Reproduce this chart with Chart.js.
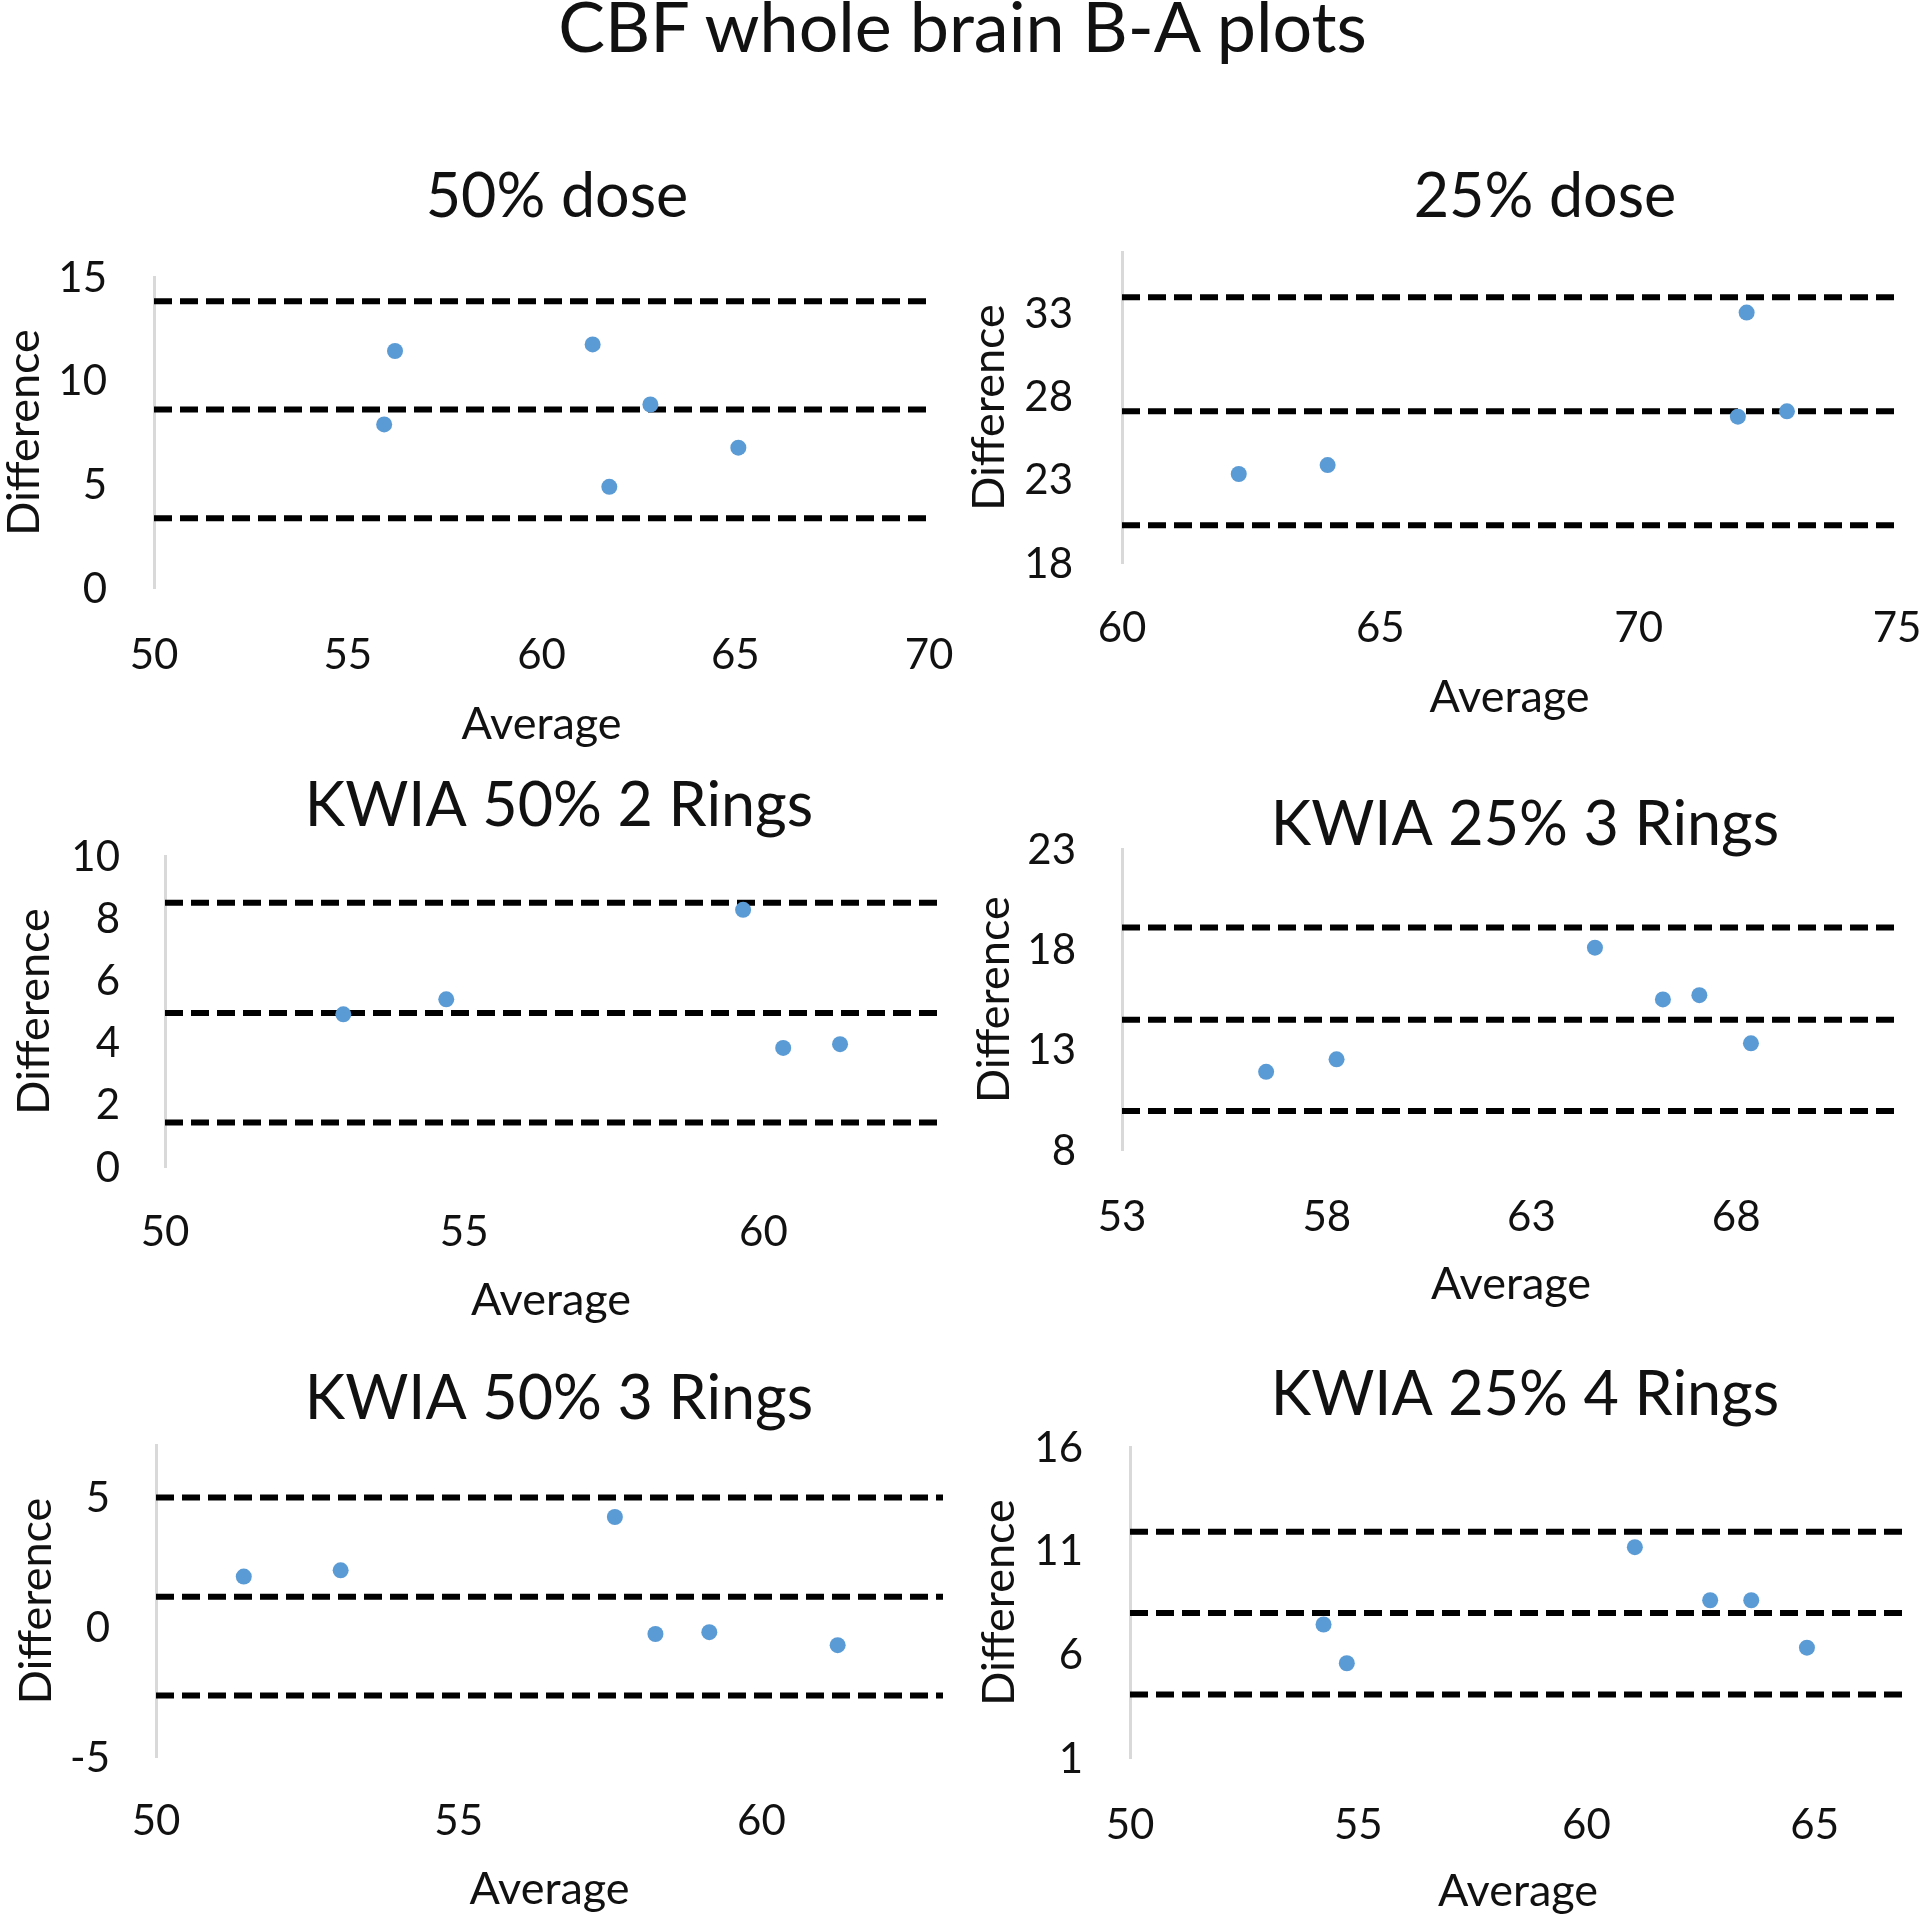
<!DOCTYPE html>
<html>
<head>
<meta charset="utf-8">
<title>CBF whole brain B-A plots</title>
<script src="https://cdn.jsdelivr.net/npm/chart.js@4.4.1/dist/chart.umd.min.js"></script>
<style>
  html, body { margin: 0; padding: 0; background: #fff; }
  body { width: 1920px; height: 1918px; position: relative; overflow: hidden; font-family: Lato, sans-serif; }
  #mainTitle { position: absolute; left: 0; top: -10px; width: 1925px; text-align: center;
               font-size: 70px; line-height: 71px; color: #111; }
  canvas { position: absolute; }
</style>
</head>
<body>
<div id="mainTitle">CBF whole brain B-A plots</div>
<canvas id="dose50"></canvas>
<canvas id="dose25"></canvas>
<canvas id="kwia50r2"></canvas>
<canvas id="kwia25r3"></canvas>
<canvas id="kwia50r3"></canvas>
<canvas id="kwia25r4"></canvas>
<script>
// ---- data (limits = [upper LoA, mean difference, lower LoA]) ----

// 50% dose
const dose50Avg    = [56.22, 55.94, 61.32, 62.81, 61.75, 65.08];
const dose50Diff   = [11.43, 7.89, 11.75, 8.85, 4.88, 6.77];
const dose50Limits = [13.83, 8.61, 3.37];
const dose50XRange = [50, 70];
const dose50YRange = [0, 15];
const dose50XTicks = [50, 55, 60, 65, 70];
const dose50YTicks = [0, 5, 10, 15];

// 25% dose
const dose25Avg    = [62.26, 63.98, 72.09, 71.92, 72.87];
const dose25Diff   = [23.35, 23.89, 33.06, 26.8, 27.12];
const dose25Limits = [33.98, 27.12, 20.27];
const dose25XRange = [60, 75];
const dose25YRange = [18, 36.7];
const dose25XTicks = [60, 65, 70, 75];
const dose25YTicks = [18, 23, 28, 33];

// KWIA 50% 2 Rings
const kwia50r2Avg    = [52.98, 54.7, 59.66, 60.33, 61.28];
const kwia50r2Diff   = [4.91, 5.39, 8.27, 3.83, 3.95];
const kwia50r2Limits = [8.5, 4.95, 1.43];
const kwia50r2XRange = [50, 62.9];
const kwia50r2YRange = [0, 10];
const kwia50r2XTicks = [50, 55, 60];
const kwia50r2YTicks = [0, 2, 4, 6, 8, 10];

// KWIA 25% 3 Rings
const kwia25r3Avg    = [56.52, 58.24, 64.55, 66.21, 67.1, 68.36];
const kwia25r3Diff   = [11.9, 12.52, 18.09, 15.51, 15.72, 13.32];
const kwia25r3Limits = [19.1, 14.5, 9.94];
const kwia25r3XRange = [53, 72];
const kwia25r3YRange = [8, 23];
const kwia25r3XTicks = [53, 58, 63, 68];
const kwia25r3YTicks = [8, 13, 18, 23];

// KWIA 50% 3 Rings
const kwia50r3Avg    = [51.45, 53.05, 57.58, 58.25, 59.14, 61.26];
const kwia50r3Diff   = [1.94, 2.18, 4.23, -0.27, -0.2, -0.7];
const kwia50r3Limits = [4.98, 1.16, -2.63];
const kwia50r3XRange = [50, 63];
const kwia50r3YRange = [-5, 7];
const kwia50r3XTicks = [50, 55, 60];
const kwia50r3YTicks = [-5, 0, 5];

// KWIA 25% 4 Rings
const kwia25r4Avg    = [54.24, 54.75, 61.06, 62.71, 63.61, 64.83];
const kwia25r4Diff   = [7.44, 5.57, 11.17, 8.61, 8.61, 6.32];
const kwia25r4Limits = [11.91, 7.99, 4.06];
const kwia25r4XRange = [50, 67];
const kwia25r4YRange = [1, 16];
const kwia25r4XTicks = [50, 55, 60, 65];
const kwia25r4YTicks = [1, 6, 11, 16];

// ---- page layout (pixels on the 1920 wide page) ----
const FONT_TICK = 42, FONT_AXIS = 45, FONT_TITLE = 61, LH = 1.2;
const TEXT = '#111';

const boxes = {
  dose50:   { plot: [154, 277, 929, 588],    titleX: 557,  titleY: 198,  diffX: 24,  tickRight: 107,  xLabelY: 655,  avgY: 724 },
  dose25:   { plot: [1122, 252, 1897, 563],  titleX: 1545, titleY: 198,  diffX: 989, tickRight: 1073, xLabelY: 628,  avgY: 697 },
  kwia50r2: { plot: [165, 856, 937, 1167],   titleX: 559,  titleY: 807,  diffX: 34,  tickRight: 120,  xLabelY: 1232, avgY: 1300 },
  kwia25r3: { plot: [1122, 838, 1900, 1150], titleX: 1525, titleY: 815,  diffX: 994, tickRight: 1076, xLabelY: 1217, avgY: 1284 },
  kwia50r3: { plot: [156, 1445, 943, 1757],  titleX: 559,  titleY: 1400, diffX: 36,  tickRight: 110,  xLabelY: 1821, avgY: 1889 },
  kwia25r4: { plot: [1130, 1447, 1906, 1758],titleX: 1525, titleY: 1396, diffX: 999, tickRight: 1083, xLabelY: 1825, avgY: 1891 }
};

Chart.defaults.font.family = 'Lato, sans-serif';
Chart.defaults.color = TEXT;

function baPlot(id, title, avg, diff, limits, xRange, yRange, xTicks, yTicks) {
  const b = boxes[id];
  const [pl, pt, pr, pb] = b.plot;

  // canvas edges, chosen so the Chart.js boxes land where the reference has them
  const left = Math.round(b.diffX - FONT_AXIS * LH / 2);
  const right = Math.round(2 * b.titleX - left);   // title is centred on the canvas
  const top = Math.round(b.titleY - FONT_TITLE * LH / 2);
  const bottom = Math.round(b.avgY + FONT_AXIS * LH / 2);

  const canvas = document.getElementById(id);
  canvas.width = right - left;
  canvas.height = bottom - top;
  canvas.style.left = left + 'px';
  canvas.style.top = top + 'px';

  const points = avg.map((a, i) => ({ x: a, y: diff[i] }));

  const lineSets = limits.map(v => ({
    data: [{ x: xRange[0], y: v }, { x: xRange[1], y: v }],
    showLine: true,
    borderColor: '#000',
    borderWidth: 6,
    borderDash: [18, 8],
    pointRadius: 0,
    fill: false
  }));

  new Chart(canvas, {
    type: 'scatter',
    data: {
      datasets: [{
        data: points,
        pointRadius: 8,
        pointBackgroundColor: '#5B9BD5',
        pointBorderWidth: 0
      }, ...lineSets]
    },
    options: {
      responsive: false,
      animation: false,
      devicePixelRatio: 1,
      layout: { padding: 0 },
      plugins: {
        legend: { display: false },
        tooltip: { enabled: false },
        title: {
          display: true,
          text: title,
          color: TEXT,
          font: { size: FONT_TITLE, weight: 'normal' },
          padding: { top: 0, bottom: pt - top - FONT_TITLE * LH }
        }
      },
      scales: {
        x: {
          type: 'linear',
          min: xRange[0],
          max: xRange[1],
          afterBuildTicks: s => { s.ticks = xTicks.map(v => ({ value: v })); },
          afterFit: s => { s.height = bottom - pb; },
          grid: { display: false, drawTicks: false },
          border: { display: false },
          ticks: {
            font: { size: FONT_TICK },
            color: TEXT,
            padding: b.xLabelY - pb - FONT_TICK * LH / 2,
            maxRotation: 0
          },
          title: { display: true, text: 'Average', color: TEXT, font: { size: FONT_AXIS }, padding: 0 }
        },
        y: {
          type: 'linear',
          min: yRange[0],
          max: yRange[1],
          afterBuildTicks: s => { s.ticks = yTicks.map(v => ({ value: v })); },
          afterFit: s => { s.width = pl - left; },
          grid: { display: false, drawTicks: false },
          border: { display: true, color: '#D9D9D9', width: 3 },
          ticks: {
            font: { size: FONT_TICK },
            color: TEXT,
            padding: pl - b.tickRight,
            labelOffset: 1
          },
          title: { display: true, text: 'Difference', color: TEXT, font: { size: FONT_AXIS }, padding: 0 }
        },
        // empty strip on the right so the chart title sits where the reference has it
        pad: {
          type: 'linear',
          position: 'right',
          afterFit: s => { s.width = right - pr; },
          grid: { display: false },
          border: { display: false },
          ticks: { display: false }
        }
      }
    }
  });
}

baPlot('dose50', '50% dose', dose50Avg, dose50Diff, dose50Limits, dose50XRange, dose50YRange, dose50XTicks, dose50YTicks);
baPlot('dose25', '25% dose', dose25Avg, dose25Diff, dose25Limits, dose25XRange, dose25YRange, dose25XTicks, dose25YTicks);
baPlot('kwia50r2', 'KWIA 50% 2 Rings', kwia50r2Avg, kwia50r2Diff, kwia50r2Limits, kwia50r2XRange, kwia50r2YRange, kwia50r2XTicks, kwia50r2YTicks);
baPlot('kwia25r3', 'KWIA 25% 3 Rings', kwia25r3Avg, kwia25r3Diff, kwia25r3Limits, kwia25r3XRange, kwia25r3YRange, kwia25r3XTicks, kwia25r3YTicks);
baPlot('kwia50r3', 'KWIA 50% 3 Rings', kwia50r3Avg, kwia50r3Diff, kwia50r3Limits, kwia50r3XRange, kwia50r3YRange, kwia50r3XTicks, kwia50r3YTicks);
baPlot('kwia25r4', 'KWIA 25% 4 Rings', kwia25r4Avg, kwia25r4Diff, kwia25r4Limits, kwia25r4XRange, kwia25r4YRange, kwia25r4XTicks, kwia25r4YTicks);
</script>
</body>
</html>
